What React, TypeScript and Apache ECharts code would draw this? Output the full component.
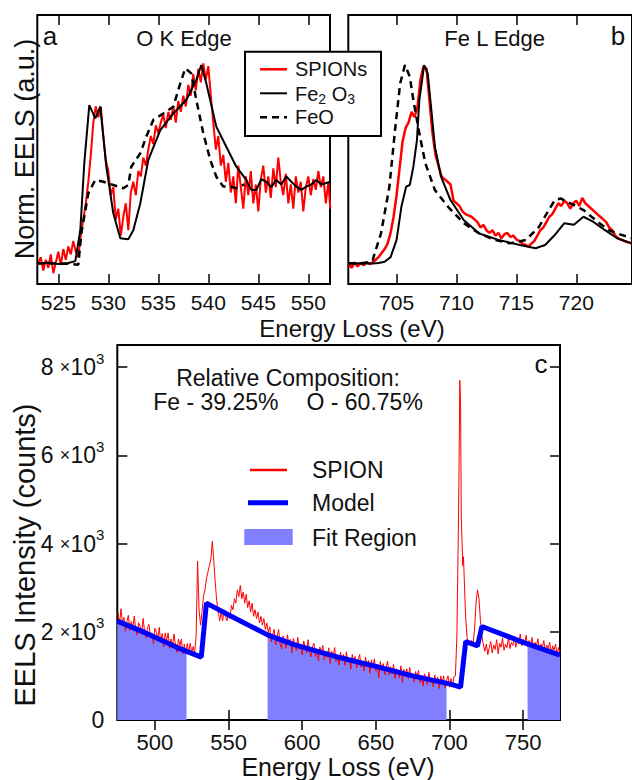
import React, { useEffect, useRef } from "react";
import * as echarts from "echarts";

const FONT = '"Liberation Sans", Arial, Helvetica, sans-serif';
const TXT = "#111";

// ---- tick values ----
const oKTicks = [525, 530, 535, 540, 545, 550];
const feLTicks = [705, 710, 715, 720];
const cXTicks = [500, 550, 600, 650, 700, 750];
const cYTicks = [0, 2000, 4000, 6000, 8000];
const cYRightTicks = [2000, 4000, 6000, 8000];

// ---- panel a: O K edge (normalized) ----
const spionA: number[][] = [
  [522.9, 0.07], [523.25, 0.1], [523.5, 0.05], [523.75, 0.09], [524, 0.06], [524.25, 0.11], [524.5, 0.04],
  [524.75, 0.08], [525, 0.12], [525.25, 0.07], [525.5, 0.13], [525.75, 0.09], [526, 0.14], [526.25, 0.11],
  [526.5, 0.16], [526.75, 0.12], [527, 0.1], [527.25, 0.18], [527.5, 0.24], [527.75, 0.3], [528, 0.38],
  [528.25, 0.48], [528.5, 0.6], [528.75, 0.66], [529, 0.62], [529.25, 0.66], [529.5, 0.55], [529.75, 0.46],
  [530, 0.42], [530.25, 0.33], [530.5, 0.36], [530.75, 0.24], [531, 0.28], [531.25, 0.18], [531.5, 0.25],
  [531.75, 0.3], [532, 0.2], [532.25, 0.34], [532.5, 0.38], [532.75, 0.33], [533, 0.42], [533.25, 0.4],
  [533.5, 0.47], [533.75, 0.44], [534, 0.5], [534.25, 0.55], [534.5, 0.52], [534.75, 0.59], [535, 0.56],
  [535.25, 0.6], [535.5, 0.63], [535.75, 0.58], [536, 0.64], [536.25, 0.61], [536.5, 0.66], [536.75, 0.6],
  [537, 0.68], [537.25, 0.64], [537.5, 0.7], [537.75, 0.66], [538, 0.74], [538.25, 0.7], [538.5, 0.78],
  [538.75, 0.72], [539, 0.8], [539.25, 0.75], [539.5, 0.82], [539.75, 0.76], [540, 0.81], [540.25, 0.7],
  [540.5, 0.6], [540.75, 0.5], [541, 0.55], [541.25, 0.44], [541.5, 0.48], [541.75, 0.38], [542, 0.45],
  [542.25, 0.34], [542.5, 0.4], [542.75, 0.3], [543, 0.44], [543.25, 0.36], [543.5, 0.28], [543.75, 0.4],
  [544, 0.33], [544.25, 0.42], [544.5, 0.3], [544.75, 0.37], [545, 0.27], [545.25, 0.39], [545.5, 0.44],
  [545.75, 0.34], [546, 0.4], [546.25, 0.32], [546.5, 0.43], [546.75, 0.36], [547, 0.47], [547.25, 0.38],
  [547.5, 0.33], [547.75, 0.41], [548, 0.3], [548.25, 0.37], [548.5, 0.28], [548.75, 0.4], [549, 0.34],
  [549.25, 0.38], [549.5, 0.27], [549.75, 0.36], [550, 0.4], [550.25, 0.33], [550.5, 0.39], [550.75, 0.35],
  [551, 0.42], [551.25, 0.36], [551.5, 0.4], [551.75, 0.3], [552, 0.38], [552.2, 0.28],
];
const fe2o3A: number[][] = [
  [522.9, 0.075], [524, 0.08], [525, 0.074], [526, 0.078], [526.7, 0.085], [527.2, 0.2], [527.6, 0.45],
  [528.1, 0.665], [528.7, 0.616], [529.2, 0.659], [529.8, 0.436], [530.5, 0.263], [531.2, 0.17], [532, 0.166],
  [532.5, 0.2], [533.2, 0.3], [534, 0.461], [535.2, 0.572], [536.5, 0.634], [537.8, 0.684], [538.8, 0.758],
  [539.3, 0.814], [539.8, 0.746], [540.8, 0.585], [541.8, 0.51], [542.8, 0.436], [543.8, 0.387], [544.3, 0.35],
  [544.8, 0.349], [545.3, 0.39], [545.8, 0.38], [546.3, 0.36], [546.8, 0.387], [547.3, 0.37], [547.8, 0.4],
  [548.3, 0.38], [548.8, 0.362], [549.3, 0.35], [549.8, 0.362], [550.3, 0.37], [550.8, 0.387], [551.3, 0.37],
  [552.2, 0.38],
];
const feoA: number[][] = [
  [522.9, 0.077], [526, 0.075], [527, 0.072], [527.3, 0.188], [528, 0.337], [528.7, 0.387], [529.5, 0.38],
  [530.5, 0.368], [531.5, 0.356], [532, 0.368], [532.3, 0.436], [533.2, 0.486], [533.8, 0.548], [534.5, 0.61],
  [535.5, 0.634], [536.5, 0.659], [537.2, 0.746], [537.7, 0.802], [538.3, 0.783], [538.8, 0.684], [539.5, 0.56],
  [540.2, 0.461], [540.8, 0.399], [541.5, 0.362], [542.2, 0.362], [542.8, 0.356], [543.6, 0.37],
];

// ---- panel b: Fe L edge (normalized) ----
const spionB: number[][] = [
  [701, 0.075], [701.25, 0.06], [701.5, 0.08], [701.75, 0.065], [702, 0.078], [702.25, 0.07], [702.5, 0.082],
  [702.75, 0.074], [703, 0.08], [703.25, 0.09], [703.5, 0.1], [703.75, 0.115], [704, 0.13], [704.25, 0.15],
  [704.5, 0.19], [704.75, 0.25], [705, 0.33], [705.25, 0.43], [705.5, 0.53], [705.75, 0.58], [706, 0.6],
  [706.25, 0.64], [706.5, 0.62], [706.75, 0.66], [707, 0.76], [707.25, 0.81], [707.5, 0.8], [707.75, 0.68],
  [708, 0.56], [708.25, 0.48], [708.5, 0.44], [708.75, 0.4], [709, 0.39], [709.25, 0.38], [709.5, 0.37],
  [709.75, 0.31], [710, 0.3], [710.25, 0.29], [710.5, 0.27], [710.75, 0.26], [711, 0.255], [711.25, 0.25],
  [711.5, 0.24], [711.75, 0.23], [712, 0.21], [712.25, 0.22], [712.5, 0.2], [712.75, 0.19], [713, 0.2],
  [713.25, 0.18], [713.5, 0.19], [713.75, 0.17], [714, 0.185], [714.25, 0.19], [714.5, 0.175], [714.75, 0.18],
  [715, 0.165], [715.25, 0.16], [715.5, 0.15], [715.75, 0.145], [716, 0.14], [716.25, 0.15], [716.5, 0.16],
  [716.75, 0.18], [717, 0.2], [717.25, 0.21], [717.5, 0.23], [717.75, 0.25], [718, 0.26], [718.25, 0.28],
  [718.5, 0.3], [718.75, 0.29], [719, 0.31], [719.25, 0.3], [719.5, 0.28], [719.75, 0.3], [720, 0.31],
  [720.25, 0.29], [720.5, 0.32], [720.75, 0.3], [721, 0.29], [721.25, 0.28], [721.5, 0.27], [721.75, 0.26],
  [722, 0.25], [722.25, 0.24], [722.5, 0.23], [722.75, 0.21], [723, 0.2], [723.25, 0.18], [723.5, 0.17],
  [724, 0.16], [724.7, 0.15],
];
const fe2o3B: number[][] = [
  [701, 0.075], [702, 0.077], [703, 0.076], [703.5, 0.078], [704, 0.083], [704.5, 0.1], [705, 0.164],
  [705.4, 0.287], [705.8, 0.362], [706.1, 0.368], [706.4, 0.436], [706.7, 0.535], [706.9, 0.684], [707.3, 0.814],
  [707.6, 0.783], [707.9, 0.647], [708.2, 0.51], [708.7, 0.4], [709.5, 0.312], [710.6, 0.238], [711.9, 0.188],
  [713.5, 0.164], [715.3, 0.145], [716.6, 0.133], [717.4, 0.145], [718.2, 0.182], [719, 0.226], [719.8, 0.22],
  [720.6, 0.25], [721.4, 0.232], [722.4, 0.2], [723.4, 0.17], [724.7, 0.15],
];
const feoB: number[][] = [
  [701, 0.077], [702, 0.077], [702.6, 0.08], [703, 0.089], [703.7, 0.188], [704.4, 0.362], [704.9, 0.585],
  [705.3, 0.746], [705.7, 0.814], [706.1, 0.771], [706.4, 0.684], [706.9, 0.56], [707.4, 0.449], [708.2, 0.349],
  [709.3, 0.287], [710.6, 0.226], [711.9, 0.188], [713.2, 0.164], [714.5, 0.151], [715.8, 0.164], [716.9, 0.213],
  [717.7, 0.275], [718.2, 0.312], [718.7, 0.318], [719.5, 0.3], [720.6, 0.275], [721.6, 0.238], [722.7, 0.2],
  [723.4, 0.188], [724.7, 0.17],
];

// ---- panel c: full spectrum (counts) ----
const spionC: number[][] = [
  [475, 2440], [476, 2156], [477, 2522], [478, 2208], [479, 2324], [480, 2010], [481, 2236], [482, 2372],
  [483, 2028], [484, 2234], [485, 2060], [486, 2356], [487, 2062], [488, 1928], [489, 2204], [490, 2120],
  [491, 1936], [492, 2302], [493, 2018], [494, 1864], [495, 2090], [496, 2166], [497, 1882], [498, 1978],
  [499, 1724], [500, 2080], [501, 1986], [502, 1842], [503, 2098], [504, 1744], [505, 1960], [506, 1656],
  [507, 1972], [508, 1798], [509, 1974], [510, 1630], [511, 1836], [512, 1662], [513, 1948], [514, 1684],
  [515, 1530], [516, 1836], [517, 1682], [518, 1838], [519, 1494], [520, 1720], [521, 1496], [522, 1732],
  [523, 1528], [524, 1744], [525, 1530], [526, 1666], [527, 1522], [528, 1900], [529, 3600], [530, 2500],
  [531, 2150], [532, 2450], [533, 2800], [534, 2950], [535, 3200], [536, 3350], [537, 3500], [538, 3650],
  [539, 4050], [540, 3600], [541, 3100], [542, 2700], [543, 2450], [544, 2250], [545, 2450], [546, 2250],
  [547, 2500], [548, 2350], [549, 2250], [550, 2450], [551, 2300], [552, 2600], [553, 2500], [554, 2750],
  [555, 2650], [556, 2950], [557, 2800], [558, 3050], [559, 2750], [560, 2900], [561, 2650], [562, 2850],
  [563, 2550], [564, 2700], [565, 2450], [566, 2650], [567, 2350], [568, 2500], [569, 2300], [570, 2450],
  [571, 2200], [572, 2350], [573, 2150], [574, 2300], [575, 2050], [576, 2200], [577, 1980], [578, 2112],
  [579, 1770], [580, 1947], [581, 2054], [582, 1701], [583, 1888], [584, 2055], [585, 1730], [586, 1608],
  [587, 1907], [588, 1805], [589, 1624], [590, 1932], [591, 1711], [592, 1829], [593, 1518], [594, 1846],
  [595, 1715], [596, 1575], [597, 1874], [598, 1604], [599, 1723], [600, 1473], [601, 1792], [602, 1662],
  [603, 1521], [604, 1821], [605, 1550], [606, 1430], [607, 1670], [608, 1740], [609, 1440], [610, 1590],
  [611, 1340], [612, 1650], [613, 1530], [614, 1690], [615, 1360], [616, 1562], [617, 1424], [618, 1636],
  [619, 1278], [620, 1560], [621, 1421], [622, 1643], [623, 1325], [624, 1477], [625, 1248], [626, 1540],
  [627, 1362], [628, 1484], [629, 1236], [630, 1548], [631, 1310], [632, 1382], [633, 1154], [634, 1486],
  [635, 1318], [636, 1440], [637, 1182], [638, 1374], [639, 1486], [640, 1198], [641, 1320], [642, 1112],
  [643, 1424], [644, 1216], [645, 1348], [646, 1060], [647, 1362], [648, 1204], [649, 1386], [650, 1108],
  [651, 1260], [652, 952], [653, 1324], [654, 1126], [655, 1278], [656, 1020], [657, 1192], [658, 1334],
  [659, 1026], [660, 1208], [661, 1040], [662, 1262], [663, 943], [664, 1164], [665, 1105], [666, 956],
  [667, 1227], [668, 848], [669, 1149], [670, 1010], [671, 1161], [672, 932], [673, 1193], [674, 954],
  [675, 1045], [676, 858], [677, 1100], [678, 963], [679, 1125], [680, 848], [681, 1020], [682, 773],
  [683, 1045], [684, 958], [685, 800], [686, 1082], [687, 845], [688, 948], [689, 751], [690, 1014],
  [691, 837], [692, 970], [693, 713], [694, 996], [695, 839], [696, 1002], [697, 735], [698, 898],
  [699, 1001], [700, 745], [701, 940], [702, 775], [703, 980], [704, 1000], [705, 1900], [706, 4300],
  [706.5, 5800], [707, 7700], [707.5, 7200], [708, 4600], [709, 3500], [709.5, 3700], [710, 3200], [711, 2300],
  [712, 1850], [713, 1750], [714, 1680], [715, 1800], [716, 1720], [717, 2050], [718, 2650], [719, 2950],
  [720, 2750], [721, 2250], [722, 1900], [723, 1700], [724, 1560], [725, 1720], [726, 1480], [727, 1650],
  [728, 1780], [729, 1520], [730, 1700], [731, 1600], [732, 1820], [733, 1500], [734, 1740], [735, 1650],
  [736, 1860], [737, 1580], [738, 1720], [739, 1640], [740, 1880], [741, 1620], [742, 1760], [743, 1690],
  [744, 1900], [745, 1650], [746, 1800], [747, 1720], [748, 1950], [749, 1680], [750, 1830], [751, 1740],
  [752, 1920], [753, 1660], [754, 1800], [755, 1700], [756, 1870], [757, 1620], [758, 1760], [759, 1680],
  [760, 1840], [761, 1580], [762, 1720], [763, 1640], [764, 1800], [765, 1560], [766, 1700], [767, 1620],
  [768, 1760], [769, 1500], [770, 1680], [771, 1580], [772, 1720], [773, 1480], [774, 1640], [775, 1520],
];
const modelC: number[][] = [
  [474.5, 2240], [493, 1985], [516, 1630], [531.5, 1425], [535, 2650], [549.5, 2390], [576.5, 1930],
  [594.5, 1710], [626, 1410], [650, 1215], [675, 1000], [700, 820], [707.5, 745], [711, 1780], [719, 1680],
  [722, 2120], [750, 1760], [775, 1470],
];
const fitRanges: number[][] = [[474.5, 521.5], [576.5, 698], [753, 775]];
const fitEdgeValues: number[][] = [[2240, 1553], [1930, 835], [1725, 1470]];

function fitRegionData(i: number): number[][] {
  const [a, b] = fitRanges[i];
  const [va, vb] = fitEdgeValues[i];
  const inner = modelC.filter((p) => p[0] > a && p[0] < b);
  return [[a, va], ...inner, [b, vb]];
}

function xAxisCfg(gridIndex: number, min: number, max: number, ticks: number[], position: string, showLabel: boolean, fontSize: number, margin: number) {
  return {
    type: "value",
    gridIndex,
    min,
    max,
    position,
    axisLine: { show: false },
    splitLine: { show: false },
    axisTick: { show: true, inside: true, length: 10, lineStyle: { color: "#000", width: 1.5 }, customValues: ticks },
    axisLabel: { show: showLabel, customValues: ticks, fontSize, color: TXT, fontFamily: FONT, margin },
  };
}

function txt(x: number, y: number, text: string, fontSize: number, align = "center", extra: any = {}) {
  return {
    type: "text",
    x,
    y,
    z: 120,
    silent: true,
    ...extra,
    style: {
      text,
      fontSize,
      fontFamily: FONT,
      fill: TXT,
      align,
      textAlign: align,
      verticalAlign: "middle",
      textVerticalAlign: "middle",
      ...(extra.style || {}),
    },
  };
}

function hline(x1: number, x2: number, y: number, stroke: string, lineWidth: number, lineDash?: number[]) {
  return {
    type: "line",
    z: 120,
    silent: true,
    shape: { x1, y1: y, x2, y2: y },
    style: { stroke, lineWidth, lineDash },
  };
}

export default function App() {
  const ref = useRef<HTMLDivElement>(null);
  useEffect(() => {
    const chart = echarts.init(ref.current!, null, { renderer: "svg" });
    const lineBase = { type: "line", symbol: "none", silent: true, animation: false };
    const option: any = {
      animation: false,
      backgroundColor: "#fff",
      grid: [
        { left: 37.3, top: 15, width: 292.7, height: 269, show: true, borderColor: "#000", borderWidth: 2, backgroundColor: "transparent" },
        { left: 348.3, top: 15, width: 300, height: 269, show: true, borderColor: "#000", borderWidth: 2, backgroundColor: "transparent" },
        { left: 117.3, top: 345, width: 442.7, height: 375, show: true, borderColor: "#000", borderWidth: 2, backgroundColor: "transparent" },
      ],
      xAxis: [
        xAxisCfg(0, 522.9, 552.17, oKTicks, "bottom", true, 21, 8),
        xAxisCfg(0, 522.9, 552.17, oKTicks, "top", false, 21, 8),
        xAxisCfg(1, 700.97, 724.65, feLTicks, "bottom", true, 21, 8),
        xAxisCfg(1, 700.97, 724.65, feLTicks, "top", false, 21, 8),
        xAxisCfg(2, 474.5, 775, cXTicks, "bottom", true, 22, 11),
        xAxisCfg(2, 474.5, 775, cXTicks, "top", false, 22, 11),
      ],
      yAxis: [
        { type: "value", gridIndex: 0, min: 0, max: 1, show: false },
        { type: "value", gridIndex: 1, min: 0, max: 1, show: false },
        {
          type: "value",
          gridIndex: 2,
          min: 0,
          max: 8500,
          position: "left",
          axisLine: { show: false },
          splitLine: { show: false },
          axisTick: { show: true, inside: true, length: 10, lineStyle: { color: "#000", width: 1.5 }, customValues: cYTicks },
          axisLabel: {
            customValues: cYTicks,
            margin: 13,
            formatter: (v: number) => (v === 0 ? "{n|0}" : `{n|${v / 1000} }{x|×}{n|10}{s|3}`),
            rich: {
              n: { fontSize: 23, fontFamily: FONT, color: TXT },
              x: { fontSize: 18, fontFamily: FONT, color: TXT },
              s: { fontSize: 15, fontFamily: FONT, color: TXT, verticalAlign: "top", padding: [0, 0, 18, 0] },
            },
          },
        },
        {
          type: "value",
          gridIndex: 2,
          min: 0,
          max: 8500,
          position: "right",
          axisLine: { show: false },
          splitLine: { show: false },
          axisTick: { show: true, inside: true, length: 10, lineStyle: { color: "#000", width: 1.5 }, customValues: cYRightTicks },
          axisLabel: { show: false },
        },
      ],
      series: [
        // panel a
        { ...lineBase, name: "SPIONs a", xAxisIndex: 0, yAxisIndex: 0, data: spionA, lineStyle: { color: "#ff0000", width: 2 }, z: 2 },
        { ...lineBase, name: "FeO a", xAxisIndex: 0, yAxisIndex: 0, data: feoA, lineStyle: { color: "#000", width: 2.5, type: [7, 5] }, z: 3 },
        { ...lineBase, name: "Fe2O3 a", xAxisIndex: 0, yAxisIndex: 0, data: fe2o3A, lineStyle: { color: "#000", width: 2 }, z: 4 },
        // panel b
        { ...lineBase, name: "SPIONs b", xAxisIndex: 2, yAxisIndex: 1, data: spionB, lineStyle: { color: "#ff0000", width: 2.5 }, z: 2 },
        { ...lineBase, name: "FeO b", xAxisIndex: 2, yAxisIndex: 1, data: feoB, lineStyle: { color: "#000", width: 2.5, type: [7, 5] }, z: 3 },
        { ...lineBase, name: "Fe2O3 b", xAxisIndex: 2, yAxisIndex: 1, data: fe2o3B, lineStyle: { color: "#000", width: 2 }, z: 4 },
        // panel c fit regions
        ...[0, 1, 2].map((i) => ({
          ...lineBase,
          name: "Fit Region " + (i + 1),
          xAxisIndex: 4,
          yAxisIndex: 2,
          data: fitRegionData(i),
          lineStyle: { width: 0 },
          areaStyle: { color: "#8080ff", opacity: 1 },
          z: 1,
        })),
        { ...lineBase, name: "SPION", xAxisIndex: 4, yAxisIndex: 2, data: spionC, lineStyle: { color: "#ff0000", width: 1 }, z: 3 },
        { ...lineBase, name: "Model", xAxisIndex: 4, yAxisIndex: 2, data: modelC, lineStyle: { color: "#0000ff", width: 5 }, z: 4 },
      ],
      graphic: [
        // panel titles & letters
        txt(50, 36, "a", 26),
        txt(184, 38, "O K Edge", 22),
        txt(494.7, 38, "Fe L Edge", 22),
        txt(618, 36, "b", 26),
        txt(541, 364, "c", 26),
        // axis titles
        txt(25, 149, "Norm. EELS (a.u.)", 27, "center", { rotation: Math.PI / 2 }),
        txt(352, 328, "Energy Loss (eV)", 24),
        txt(25, 555, "EELS Intensity (counts)", 29, "center", { rotation: Math.PI / 2 }),
        txt(338, 767, "Energy Loss (eV)", 25),
        // composition
        txt(288, 378, "Relative Composition:", 23),
        txt(278.5, 401.7, "Fe - 39.25%", 23, "right"),
        txt(306.5, 401.7, "O - 60.75%", 23, "left"),
        // legend a
        {
          type: "rect",
          z: 110,
          silent: true,
          shape: { x: 245, y: 51.7, width: 136, height: 84.3 },
          style: { fill: "#fff", stroke: "#000", lineWidth: 2 },
        },
        hline(260, 287, 69.3, "#ff0000", 2.5),
        hline(260, 287, 93.3, "#000", 2),
        hline(260, 287, 117.3, "#000", 2.5, [7, 5]),
        txt(295, 69.3, "SPIONs", 20, "left"),
        txt(295, 94, "{n|Fe}{sub|2}{n| O}{sub|3}", 20, "left", {
          style: {
            rich: {
              n: { fontSize: 20, fontFamily: FONT, fill: TXT },
              sub: { fontSize: 14, fontFamily: FONT, fill: TXT, verticalAlign: "bottom", padding: [10, 0, 0, 0] },
            },
          },
        }),
        txt(295, 117.3, "FeO", 20, "left"),
        // legend c
        hline(250, 287, 470, "#ff0000", 2.5),
        txt(312, 470, "SPION", 23, "left"),
        hline(248, 288, 502.7, "#0000ff", 5),
        txt(312, 503, "Model", 23, "left"),
        {
          type: "rect",
          z: 110,
          silent: true,
          shape: { x: 244.3, y: 529, width: 48.4, height: 16 },
          style: { fill: "#8080ff" },
        },
        txt(312, 537.5, "Fit Region", 23, "left"),
      ],
    };
    chart.setOption(option);
    return () => chart.dispose();
  }, []);
  return <div ref={ref} style={{ position: "fixed", left: 0, top: 0, width: 632, height: 780, background: "#fff" }} />;
}
